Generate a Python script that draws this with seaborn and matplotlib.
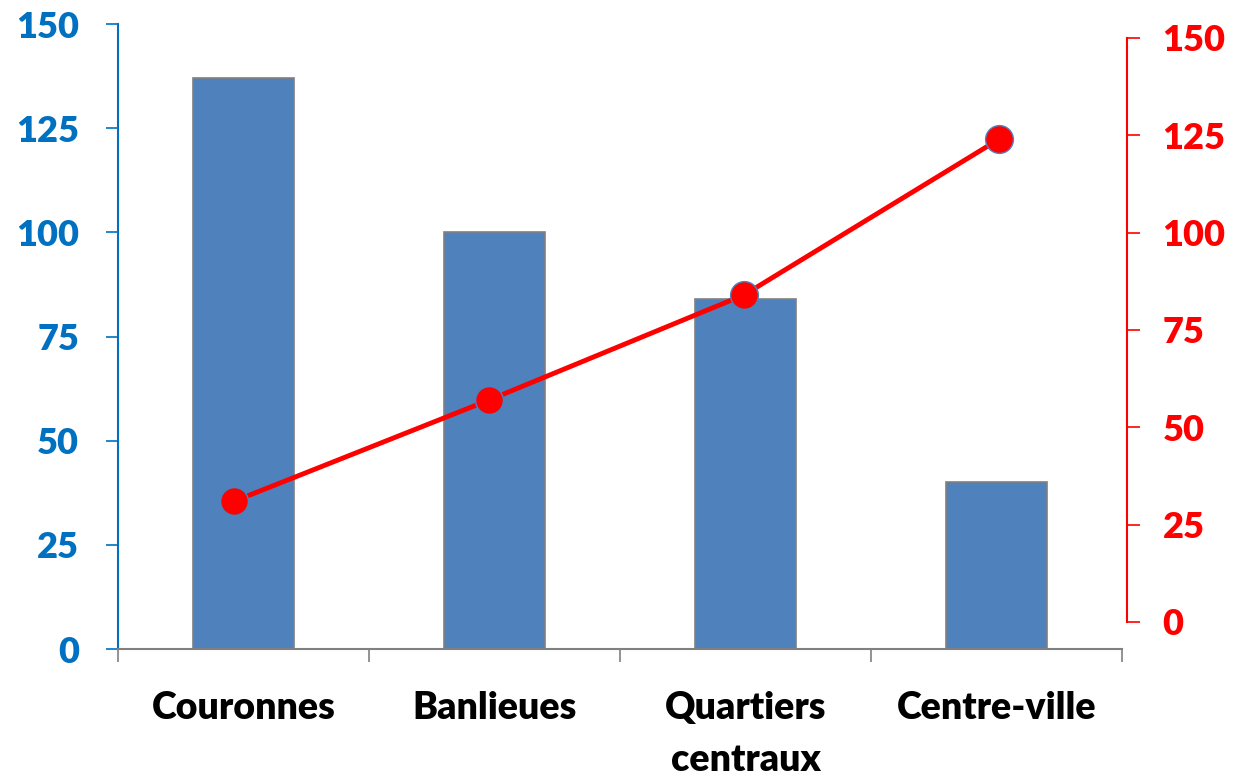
import numpy as np
import pandas as pd
import matplotlib
matplotlib.use("Agg")
import matplotlib.pyplot as plt
import seaborn as sns

categories = ["Couronnes", "Banlieues", "Quartiers\ncentraux", "Centre-ville"]
bar_values = [137, 100, 84, 40]
line_values = [31, 57, 84, 124]
y_ticks = [0, 25, 50, 75, 100, 125, 150]

sns.set_theme(style="white")
plt.rcParams["font.family"] = ["Lato", "DejaVu Sans"]

BLUE_AXIS = "#0070C0"
BAR = "#4F81BD"
RED = "#FF0000"
GREY = "#808080"
WEIGHT = "heavy"

fig = plt.figure(figsize=(12.34, 7.77), dpi=100)
ax = fig.add_axes([0.0956, 0.1647, 0.8136, 0.8044])

df = pd.DataFrame({"cat": categories, "val": bar_values})
sns.barplot(data=df, x="cat", y="val", ax=ax, color=BAR, width=0.4,
            saturation=1, edgecolor=GREY, linewidth=1.2)
ax.set_xlim(-0.5, 3.5)
ax.set_ylim(0, 150)
ax.set_xlabel("")
ax.set_ylabel("")
ax.set_yticks(y_ticks)
ax.tick_params(axis="y", colors=BLUE_AXIS, length=9, width=1.2, direction="out",
               labelsize=26, pad=19, left=True)
for t in ax.get_yticklabels():
    t.set_fontweight(WEIGHT)

# category boundaries as major ticks, labels on minor ticks
ax.set_xticks(np.arange(-0.5, 4.0, 1.0))
ax.set_xticklabels([])
ax.set_xticks(np.arange(len(categories)), minor=True)
ax.set_xticklabels(categories, minor=True, fontsize=27, fontweight=WEIGHT,
                   color="black", linespacing=1.65)
ax.tick_params(axis="x", which="major", length=9, width=1.2, color=GREY,
               direction="out", bottom=True)
ax.tick_params(axis="x", which="minor", length=0, pad=30)
for s in ["top", "right"]:
    ax.spines[s].set_visible(False)
ax.spines["left"].set_color(BLUE_AXIS)
ax.spines["left"].set_linewidth(1.5)
ax.spines["bottom"].set_color(GREY)
ax.spines["bottom"].set_linewidth(1.5)

# secondary axis for the red series
ax2 = fig.add_axes([0.0863, 0.1995, 0.8266, 0.7516])
ax2.patch.set_visible(False)
sns.lineplot(x=np.arange(len(line_values)), y=line_values, ax=ax2, color=RED,
             linewidth=3.5, marker="o", markersize=20, markerfacecolor=RED,
             markeredgecolor="#4F81BD", markeredgewidth=1.0)
ax2.set_xlim(-0.5, 3.5)
ax2.set_ylim(0, 150)
ax2.set_xticks([])
ax2.set_yticks(y_ticks)
ax2.yaxis.tick_right()
ax2.tick_params(axis="y", colors=RED, length=9, width=1.2, direction="out",
                labelsize=26, pad=17, right=True, left=False)
for t in ax2.get_yticklabels():
    t.set_fontweight(WEIGHT)
for s in ["top", "left", "bottom"]:
    ax2.spines[s].set_visible(False)
ax2.spines["right"].set_visible(True)
ax2.spines["right"].set_color(RED)
ax2.spines["right"].set_linewidth(1.5)
ax2.set_xlabel("")
ax2.set_ylabel("")

fig.savefig("out.png", dpi=100)
